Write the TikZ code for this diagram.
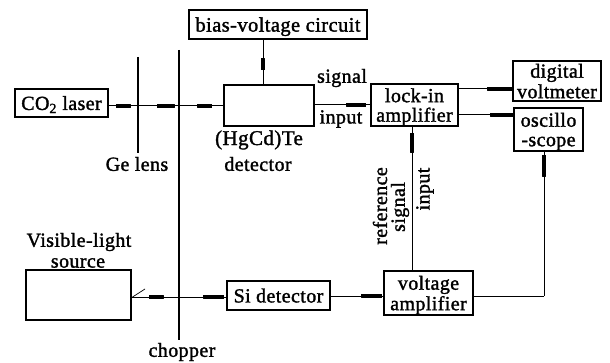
\documentclass[tikz,border=0pt]{standalone}
\usepackage{fontspec}
\setmainfont{Liberation Serif}[FakeBold=1.5,LetterSpace=2]
\usetikzlibrary{arrows.meta,decorations.markings}
\tikzset{
  x=1pt,y=-1pt,
  blk/.style={draw,line width=1.7pt,inner sep=0pt,align=center,font=\lab,text depth=0pt},
  txt/.style={inner sep=0pt,align=center,font=\lab},
  conn/.style={line width=1pt},
  barline/.style={line width=1.2pt},
  tipat/.style 2 args={conn,postaction={decorate},decoration={markings,mark=at position #1 with {\arrow{Rectangle[length=#2pt,width=4.5pt,round]}}}}
}
\newcommand{\lab}{\fontsize{20}{20.5}\selectfont}
\begin{document}
\begin{tikzpicture}
\useasboundingbox (0,0) rectangle (610,363);
% boxes
\node[blk,minimum width=93pt,minimum height=28pt] (co2) at (61.5,103) {CO\textsubscript{2} laser};
\node[blk,minimum width=178pt,minimum height=29pt] (bias) at (278,24.5) {\fontsize{20.5}{21}\selectfont bias-voltage circuit};
\node[blk,minimum width=90pt,minimum height=41pt] (det) at (269,105.5) {};
\node[blk,minimum width=87pt,minimum height=42pt] (lock) at (414.5,105) {lock-in\\[-1pt]amplifier};
\node[blk,minimum width=88pt,minimum height=40pt] (dvm) at (557,81) {digital\\voltmeter};
\node[blk,minimum width=69pt,minimum height=43pt] (osc) at (548.5,129.5) {oscillo\\[-1pt]-scope};
\node[blk,minimum width=105pt,minimum height=50pt] (vis) at (78.5,295) {};
\node[blk,minimum width=103pt,minimum height=29pt] (si) at (278.5,295.5) {Si detector};
\node[blk,minimum width=89pt,minimum height=44pt] (vamp) at (428.5,293) {voltage\\amplifier};
% lens and chopper
\coordinate (getop) at (138,57);
\coordinate (gebot) at (138,153);
\coordinate (chtop) at (179,50);
\coordinate (chbot) at (179,340);
\draw[barline] (getop) -- (gebot);
\draw[barline] (chtop) -- (chbot);
% crossing points
\coordinate (gex) at (138,106);
\coordinate (chx) at (179,106);
\coordinate (chy) at (179,297);
% connectors
\draw[tipat={.75}{15}] (co2.east |- gex) -- (gex);
\draw[tipat={.9}{18}] (gex) -- (chx);
\draw[tipat={.75}{15}] (chx) -- (det.west |- chx);
\draw[tipat={.69}{12}] (bias.south -| 263,0) -- (det.north -| 263,0);
\draw[tipat={.93}{20}] (det.east |- 0,105) -- (lock.west |- 0,105);
\draw[tipat={1}{25}] (lock.east |- 0,89) -- (dvm.west |- 0,89);
\draw[tipat={1}{23}] (lock.east |- 0,115) -- (osc.west |- 0,115);
\draw[tipat={.96}{20}] (vamp.north -| 412,0) -- (lock.south -| 412,0);
\draw[tipat={.68}{15}] (vis.east |- chy) -- (chy);
\draw[tipat={.96}{21}] (chy) -- (si.west |- chy);
\draw[tipat={.98}{21}] (si.east |- 0,296) -- (vamp.west |- 0,296);
\coordinate (bend) at (544,296);
\draw[conn] (vamp.east |- bend) -- (bend);
\draw[tipat={.98}{22}] (bend) -- (osc.south -| bend);
\coordinate (ticka) at (131,298);
\coordinate (tickb) at (145,289);
\draw[line width=.7pt] (ticka) -- (tickb);
% labels
\node[txt] (lsignal) at (342,78) {signal};
\node[txt] (linput) at (341,119) {input};
\node[txt,font=\fontsize{21}{22}\selectfont] (lhg) at (259,140) {(HgCd)Te};
\node[txt] (ldet) at (258,164) {detector};
\node[txt] (lge) at (137,164) {Ge lens};
\node[txt] (lch) at (182,352) {chopper};
\node[txt] (lvis) at (79,242) {Visible-light};
\node[txt] (lsrc) at (78,263) {source};
\node[txt,rotate=90] (lref) at (380,206) {reference};
\node[txt,rotate=90] (lsig) at (400,207) {signal};
\node[txt,rotate=90] (lin) at (425,189) {input};
\end{tikzpicture}
\end{document}
